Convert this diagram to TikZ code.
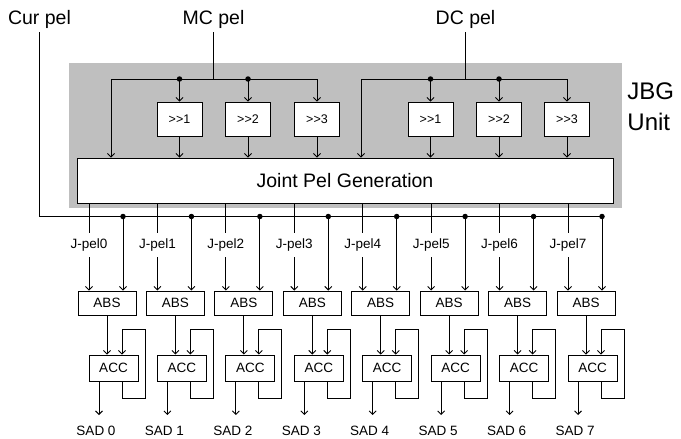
\documentclass[tikz,border=0pt]{standalone}
\usepackage{fontspec}
\setmainfont{Liberation Sans}
\usetikzlibrary{arrows.meta}
\begin{document}
\begin{tikzpicture}[x=1pt,y=-1pt, line width=0.9pt,
  arr/.style={-{Straight Barb[length=3.5pt,width=7pt]}},
  blk/.style={draw, fill=white, inner sep=0pt},
  dot/.style={circle, fill=black, inner sep=0pt, minimum size=5.5pt},
  big/.style={font=\fontsize{19.5}{23}\selectfont},
  huge/.style={font=\fontsize{24}{30}\selectfont},
  sm/.style={font=\fontsize{13.5}{16}\selectfont},
  sh/.style={blk, minimum width=45pt, minimum height=34pt, font=\fontsize{12.5}{15}\selectfont}]
\useasboundingbox (0,0) rectangle (681,439);

% JBG unit background
\node[fill=gray!50, inner sep=0pt, minimum width=553pt, minimum height=145pt] (jbg) at (345.5,135.5) {};
\node[huge, anchor=base west, inner sep=0pt] (jbgt) at (627,99) {JBG};
\node[huge, anchor=base west, inner sep=0pt] (jbgu) at (627,130) {Unit};

% Joint Pel Generation
\node[blk, big, minimum width=536pt, minimum height=45pt] (jpg) at (345,180.5) {Joint Pel Generation};

% input labels
\node[big, inner sep=3pt] (curl) at (39.5,19.5) {Cur pel};
\node[big, inner sep=3pt] (mcl) at (213.5,19.5) {MC pel};
\node[big, inner sep=3pt] (dcl) at (465.5,19.5) {DC pel};

% shift boxes
\node[sh] (mc1) at (179.5,119) {>{}>1};
\node[sh] (mc2) at (248,119) {>{}>2};
\node[sh] (mc3) at (317,119) {>{}>3};
\node[sh] (dc1) at (430.5,119) {>{}>1};
\node[sh] (dc2) at (499,119) {>{}>2};
\node[sh] (dc3) at (567,119) {>{}>3};

% MC bus
\coordinate (mcj) at (213.5,79);
\coordinate (mcL) at (111,79);
\draw (mcl.south) -- (mcj);
\draw (mcL) -- (mcj -| mc3);
\draw[arr] (mcL) -- (jpg.north -| mcL);
\foreach \k in {1,2,3}{
  \draw[arr] (mcj -| mc\k) -- (mc\k.north);
  \draw[arr] (mc\k.south) -- (jpg.north -| mc\k);
}
\node[dot] at (mcj -| mc1) {};
\node[dot] at (mcj -| mc2) {};

% DC bus
\coordinate (dcj) at (465.5,79);
\coordinate (dcL) at (361,79);
\draw (dcl.south) -- (dcj);
\draw (dcL) -- (dcj -| dc3);
\draw[arr] (dcL) -- (jpg.north -| dcL);
\foreach \k in {1,2,3}{
  \draw[arr] (dcj -| dc\k) -- (dc\k.north);
  \draw[arr] (dc\k.south) -- (jpg.north -| dc\k);
}
\node[dot] at (dcj -| dc1) {};
\node[dot] at (dcj -| dc2) {};

% columns
\foreach \i in {0,...,7}{
  \pgfmathsetmacro\bx{78+68.43*\i}
  \node[blk, sm, minimum width=58pt, minimum height=24pt] (abs\i) at (\bx+29,303) {ABS};
  \node[blk, sm, minimum width=49pt, minimum height=26pt] (acc\i) at (\bx+35.5,368) {ACC};
  \node[sm, inner sep=0pt, minimum height=24pt] (jl\i) at (\bx+11,245) {J-pel\i};
  \node[sm, inner sep=0pt] (sad\i) at (\bx+18,430.5) {SAD \i};
  \coordinate (cd\i) at (\bx+45,216.5);
  \coordinate (fi\i) at (\bx+44,329);
  \coordinate (fo\i) at (\bx+67,398);
  \coordinate (so\i) at (\bx+21,415);
}

% Cur pel bus
\draw (curl.south) |- (cd7);

\foreach \i in {0,...,7}{
  \draw (jpg.south -| jl\i) -- (jl\i.north);
  \draw[arr] (jl\i.south) -- (abs\i.north -| jl\i);
  \draw[arr] (cd\i) -- (abs\i.north -| cd\i);
  \node[dot] at (cd\i) {};
  \draw[arr] (abs\i.south) -- (acc\i.north -| abs\i.south);
  \draw[arr] (acc\i.south -| fi\i) -- (fi\i |- fo\i) -- (fo\i) -- (fo\i |- fi\i) -- (fi\i) -- (acc\i.north -| fi\i);
  \draw[arr] (acc\i.south -| so\i) -- (so\i);
}
\end{tikzpicture}
\end{document}
